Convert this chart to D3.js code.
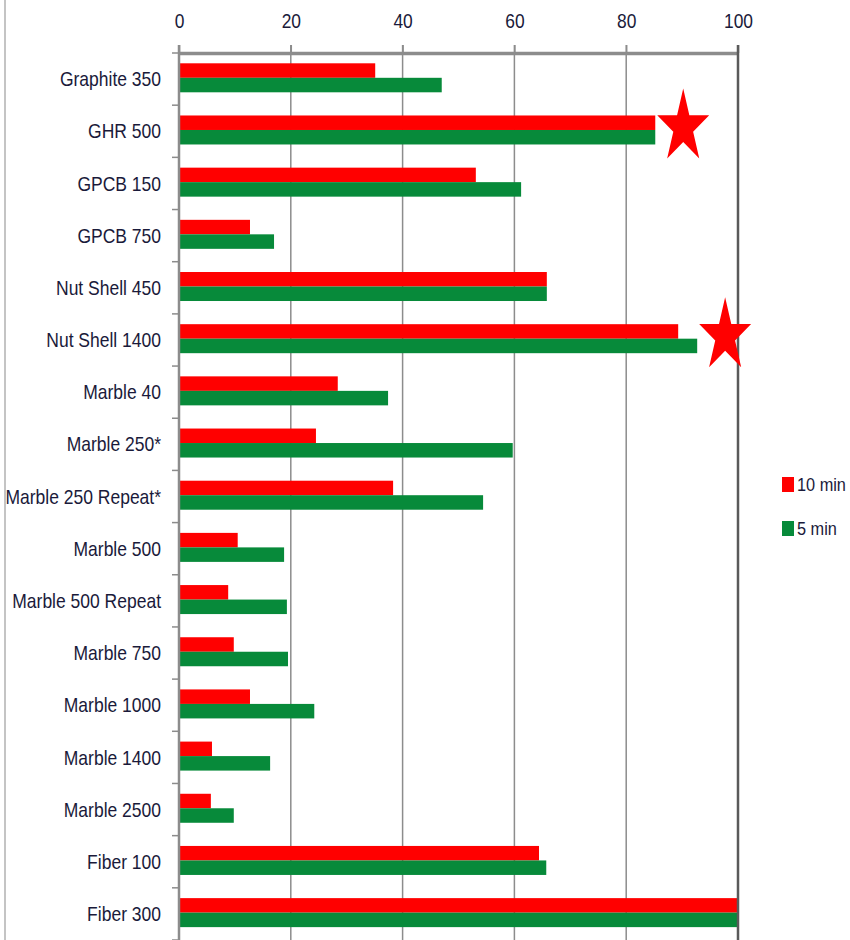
<!DOCTYPE html>
<html>
<head>
<meta charset="utf-8">
<script src="https://cdn.jsdelivr.net/npm/d3@7"></script>
<style>
  body { margin: 0; background: #fff; }
  text { font-family: "Liberation Sans", Arial, sans-serif; fill: #1a1a3a; }
</style>
</head>
<body>
<svg id="chart"></svg>
<script>
// data
var categories = ["Graphite 350", "GHR 500", "GPCB 150", "GPCB 750", "Nut Shell 450", "Nut Shell 1400",
  "Marble 40", "Marble 250*", "Marble 250 Repeat*", "Marble 500", "Marble 500 Repeat", "Marble 750",
  "Marble 1000", "Marble 1400", "Marble 2500", "Fiber 100", "Fiber 300"];
var tenMin = [35.1, 85.2, 53.1, 12.7, 65.8, 89.3, 28.4, 24.5, 38.3, 10.5, 8.8, 9.8, 12.7, 5.9, 5.7, 64.4, 100];
var fiveMin = [47.0, 85.2, 61.2, 17.0, 65.8, 92.7, 37.4, 59.7, 54.4, 18.8, 19.3, 19.5, 24.2, 16.3, 9.8, 65.7, 100];
var seriesNames = ["10 min", "5 min"];
var seriesColors = ["#ff0000", "#078a3a"];
var xTicks = [0, 20, 40, 60, 80, 100];
var starCats = ["GHR 500", "Nut Shell 1400"];
var starValues = [90.2, 97.7];

var width = 850, height = 940;
var plot = { left: 179, right: 738, top: 53, bottom: 940 };
var stretch = "scale(1,1.13)"; // the source glyphs are taller than they are wide

var svg = d3.select("#chart")
  .attr("width", width)
  .attr("height", height);

// scales
var x = d3.scaleLinear().domain([0, 100]).range([plot.left, plot.right]);
var y = d3.scaleBand().domain(categories).range([plot.top, plot.bottom]).padding(0);
var ySub = d3.scaleBand().domain(seriesNames).range([10.3, 39.3]);

var rows = categories.map(function(c, i) {
  return { cat: c, values: [tenMin[i], fiveMin[i]] };
});

// left frame line
svg.append("line")
  .attr("x1", 5).attr("x2", 5)
  .attr("y1", 0).attr("y2", height)
  .attr("stroke", "#c4c4c4")
  .attr("stroke-width", 2);

// vertical gridlines
svg.append("g")
  .selectAll("line")
  .data(xTicks.filter(function(d) { return d > 0 && d < 100; }))
  .enter().append("line")
  .attr("x1", function(d) { return x(d); })
  .attr("x2", function(d) { return x(d); })
  .attr("y1", plot.top - 8)
  .attr("y2", plot.bottom)
  .attr("stroke", "#8c8c8c")
  .attr("stroke-width", 1.5);

// bars
var groups = svg.append("g")
  .selectAll("g")
  .data(rows)
  .enter().append("g")
  .attr("transform", function(d) { return "translate(0," + y(d.cat) + ")"; });

groups.selectAll("rect")
  .data(function(d) {
    return d.values.map(function(v, i) { return { name: seriesNames[i], value: v, color: seriesColors[i] }; });
  })
  .enter().append("rect")
  .attr("x", x(0))
  .attr("y", function(d) { return ySub(d.name); })
  .attr("width", function(d) { return x(d.value) - x(0); })
  .attr("height", ySub.bandwidth())
  .attr("fill", function(d) { return d.color; });

// top axis
var xAxis = svg.append("g")
  .attr("transform", "translate(0," + plot.top + ")")
  .call(d3.axisTop(x).tickValues(xTicks).tickSize(8).tickPadding(0).tickSizeOuter(0));
xAxis.select(".domain").attr("stroke", "#8c8c8c").attr("stroke-width", 3.5);
xAxis.selectAll(".tick line").attr("stroke", "#8c8c8c").attr("stroke-width", 1.5);
xAxis.selectAll(".tick text")
  .attr("y", 0)
  .attr("dy", null)
  .attr("transform", "translate(0,-25) " + stretch)
  .style("font-size", "17.4px")
  .attr("fill", "#1a1a3a");

// left axis line and category ticks
var yAxis = svg.append("g")
  .attr("transform", "translate(" + plot.left + ",0)")
  .call(d3.axisLeft(y).tickSize(0).tickPadding(18));
yAxis.select(".domain").remove();
yAxis.selectAll(".tick text")
  .style("font-size", "17.5px")
  .attr("dy", "0.36em")
  .attr("transform", stretch)
  .attr("fill", "#1a1a3a");

svg.append("line")
  .attr("x1", plot.left).attr("x2", plot.left)
  .attr("y1", plot.top - 8).attr("y2", plot.bottom)
  .attr("stroke", "#8c8c8c")
  .attr("stroke-width", 2.5);

svg.append("g")
  .selectAll("line")
  .data(categories.concat(["end"]))
  .enter().append("line")
  .attr("x1", plot.left - 7)
  .attr("x2", plot.left)
  .attr("y1", function(d, i) { return plot.top + i * y.step(); })
  .attr("y2", function(d, i) { return plot.top + i * y.step(); })
  .attr("stroke", "#8c8c8c")
  .attr("stroke-width", 1.5);

// right border at 100
svg.append("line")
  .attr("x1", x(100)).attr("x2", x(100))
  .attr("y1", plot.top - 8).attr("y2", plot.bottom)
  .attr("stroke", "#5a5a5a")
  .attr("stroke-width", 2.5);

// stars
function starPoints(rx, ry) {
  var pts = [];
  for (var k = 0; k < 10; k++) {
    var a = -Math.PI / 2 + k * Math.PI / 5;
    var r = k % 2 === 0 ? 1 : 0.382;
    pts.push([Math.cos(a) * r * rx, Math.sin(a) * r * ry]);
  }
  return pts;
}
svg.append("g")
  .selectAll("path")
  .data(starCats.map(function(c, i) { return { cat: c, value: starValues[i] }; }))
  .enter().append("path")
  .attr("d", d3.line().curve(d3.curveLinearClosed)(starPoints(27.3, 38.7)))
  .attr("transform", function(d) {
    return "translate(" + x(d.value) + "," + (y(d.cat) + y.bandwidth() / 2 - 4) + ")";
  })
  .attr("fill", "#ff0000");

// legend
var legend = svg.append("g")
  .selectAll("g")
  .data(seriesNames)
  .enter().append("g")
  .attr("transform", function(d, i) { return "translate(782," + (477 + i * 44) + ")"; });
legend.append("rect")
  .attr("width", 12)
  .attr("height", 15)
  .attr("fill", function(d, i) { return seriesColors[i]; });
legend.append("text")
  .attr("transform", "translate(15,14) " + stretch)
  .style("font-size", "16.3px")
  .text(function(d) { return d; });
</script>
</body>
</html>
